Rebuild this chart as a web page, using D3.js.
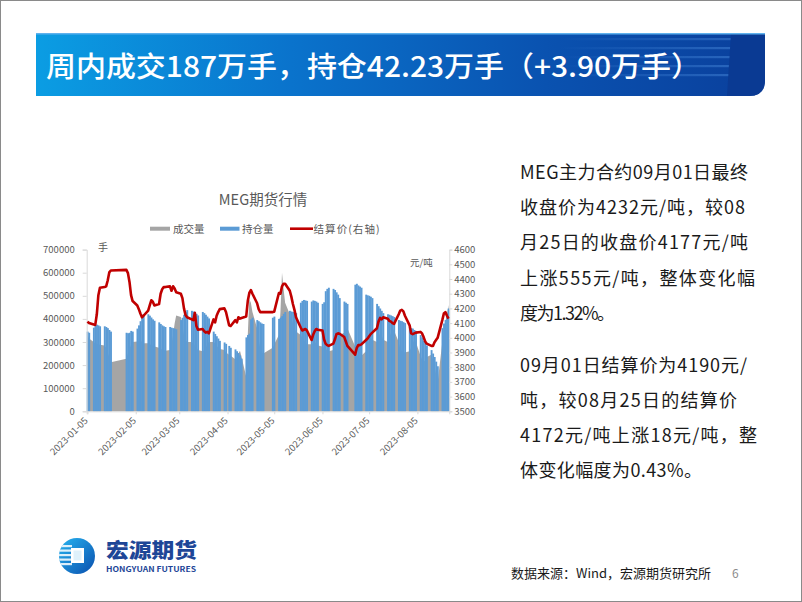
<!DOCTYPE html>
<html>
<head>
<meta charset="utf-8">
<script src="https://cdn.jsdelivr.net/npm/d3@7"></script>
<style>
  html, body { margin: 0; padding: 0; background: #fff; }
  svg { display: block; }
  text { font-family: "Noto Sans CJK SC", "Liberation Sans", sans-serif; }
</style>
</head>
<body>
<svg id="slide" width="802" height="602"></svg>
<script>
// ---- data ----
const firstDay = "2023-01-05";
const lastDay = "2023-08-25";
const holidays = ["2023-01-23", "2023-01-24", "2023-01-25", "2023-01-26", "2023-01-27",
  "2023-04-05", "2023-05-01", "2023-05-02", "2023-05-03", "2023-06-22", "2023-06-23"];

// 成交量 (手), one value per trading day, one row per week
const volume = [
  330000, 315000,
  300000, 295000, 292000, 290000, 288000,
  285000, 275000, 255000, 235000, 212000,
  228000, 250000, 270000, 288000, 300000,
  302000, 305000, 310000, 300000, 295000,
  295000, 290000, 288000, 284000, 280000,
  275000, 270000, 268000, 265000, 262000,
  265000, 290000, 330000, 380000, 415000,
  408000, 370000, 332000, 310000, 300000,
  300000, 295000, 285000, 275000, 265000,
  260000, 265000, 275000, 290000, 300000,
  300000, 295000, 285000, 275000, 270000,
  265000, 255000, 245000, 240000,
  225000, 235000, 250000, 262000, 235000,
  150000, 330000, 485000, 470000, 430000,
  360000, 310000, 275000, 258000, 250000,
  275000, 290000,
  330000, 430000, 600000, 530000, 470000,
  420000, 400000, 380000, 360000, 345000,
  330000, 320000, 310000, 300000, 290000,
  290000, 295000, 300000, 295000, 285000,
  280000, 275000, 270000, 265000, 260000,
  265000, 280000, 300000, 320000, 330000,
  340000, 355000, 360000,
  280000, 250000, 235000, 230000, 240000,
  260000, 290000, 310000, 320000, 310000,
  300000, 320000, 340000, 330000, 310000,
  300000, 320000, 340000, 360000, 350000,
  300000, 270000, 262000, 258000, 255000,
  260000, 275000, 295000, 310000, 300000,
  240000, 225000, 215000, 220000, 235000,
  245000, 225000, 195000, 160000, 125000,
  300000, 350000, 390000, 420000, 460000
];

// 持仓量 (手)
const openInt = [
  345000, 340000,
  362000, 370000, 375000, 372000, 368000,
  368000, 365000, 360000, 352000, 345000,
  340000, 338000, 340000, 348000, 345000,
  358000, 372000, 390000, 410000, 420000,
  420000, 414000, 406000, 398000, 392000,
  385000, 378000, 372000, 368000, 365000,
  365000, 362000, 360000, 358000, 355000,
  395000, 405000, 418000, 430000, 438000,
  435000, 432000, 428000, 422000, 415000,
  430000, 425000, 418000, 410000, 402000,
  345000, 335000, 325000, 315000, 305000,
  298000, 292000, 283000, 275000,
  268000, 260000, 252000, 242000, 228000,
  320000, 330000, 336000, 398000, 405000,
  395000, 390000, 385000, 380000, 378000,
  405000, 410000,
  400000, 405000, 412000, 422000, 430000,
  435000, 432000, 430000, 428000, 425000,
  470000, 478000, 482000, 480000, 478000,
  475000, 480000, 478000, 475000, 470000,
  465000, 472000, 520000, 530000, 535000,
  530000, 525000, 515000, 505000, 490000,
  475000, 470000, 465000,
  548000, 552000, 545000, 540000, 535000,
  505000, 502000, 500000, 496000, 490000,
  465000, 455000, 445000, 435000, 425000,
  420000, 418000, 415000, 412000, 408000,
  395000, 392000, 390000, 386000, 382000,
  365000, 360000, 358000, 352000, 348000,
  330000, 320000, 305000, 295000, 285000,
  265000, 250000, 235000, 215000, 195000,
  360000, 380000, 395000, 415000, 445000
];

// 结算价 (元/吨, 右轴)
const settle = [
  4110, 4100,
  4090, 4088, 4160, 4290, 4340,
  4345, 4350, 4390, 4445, 4458,
  4462, 4440, 4380, 4290, 4250,
  4220, 4195, 4165, 4140, 4150,
  4185, 4220, 4255, 4245, 4220,
  4230, 4300, 4330, 4345, 4345,
  4350, 4320, 4350, 4335, 4310,
  4300, 4270, 4200, 4155, 4140,
  4125, 4120, 4170, 4080, 4055,
  4060, 4045, 4035, 4040, 4030,
  4125, 4105, 4150, 4175, 4195,
  4200, 4175, 4085, 4080,
  4120, 4105, 4140, 4130, 4135,
  4145, 4250, 4305, 4325, 4300,
  4235, 4195, 4175, 4175, 4175,
  4175, 4178,
  4305, 4300, 4350, 4368, 4368,
  4320, 4280, 4230, 4190, 4140,
  4070, 4050, 4055, 4060, 4050,
  3985, 4020, 4045, 4060, 4055,
  4050, 3990, 3960, 3950, 3945,
  3960, 3990, 4025, 4030, 4028,
  4005, 3975, 3945,
  3885, 3930, 3950, 3950, 3955,
  3985, 3995, 4010, 4025, 4035,
  4065, 4110, 4135, 4125, 4140,
  4130, 4115, 4110, 4100, 4095,
  4160, 4185, 4190, 4180, 4150,
  4085, 4030, 4025, 4030, 4035,
  4040, 4030, 4005, 3975, 3960,
  3945, 3945, 3970, 3985, 4000,
  4120, 4165, 4175, 4150, 4130
];

const dateTicks = ["2023-01-05", "2023-02-05", "2023-03-05", "2023-04-05",
  "2023-05-05", "2023-06-05", "2023-07-05", "2023-08-05"];
const leftTicks = [0, 100000, 200000, 300000, 400000, 500000, 600000, 700000];
const rightTicks = [3500, 3600, 3700, 3800, 3900, 4000, 4100, 4200, 4300, 4400, 4500, 4600];

const noteLines = [
  "MEG主力合约09月01日最终",
  "收盘价为4232元/吨，较08",
  "月25日的收盘价4177元/吨",
  "上涨555元/吨，整体变化幅",
  "度为1.32%。",
  "09月01日结算价为4190元/",
  "吨，较08月25日的结算价",
  "4172元/吨上涨18元/吨，整",
  "体变化幅度为0.43%。"
];

// ---- build trading calendar ----
const parse = d3.timeParse("%Y-%m-%d");
const fmt = d3.timeFormat("%Y-%m-%d");
const start = parse(firstDay), end = parse(lastDay);
const holidaySet = new Set(holidays);
const tradeDays = d3.timeDay.range(start, d3.timeDay.offset(end, 1))
  .filter(d => d.getDay() % 6 !== 0 && !holidaySet.has(fmt(d)));

const rows = tradeDays.map((d, i) => ({ date: d, vol: volume[i], oi: openInt[i], px: settle[i] }));

const svg = d3.select("#slide");

// slide frame
svg.append("rect").attr("x", 0.5).attr("y", 0.5).attr("width", 801).attr("height", 601)
  .attr("fill", "#fff").attr("stroke", "#8a8a8a");

// ---- title banner ----
const defs = svg.append("defs");
const bg = defs.append("linearGradient").attr("id", "bannerGrad")
  .attr("x1", 0).attr("y1", 0).attr("x2", 1).attr("y2", 0);
bg.selectAll("stop")
  .data([
    { offset: "0%", color: "#0b9de3" },
    { offset: "35%", color: "#0a73cc" },
    { offset: "70%", color: "#0a52b0" },
    { offset: "100%", color: "#0a3f9c" }
  ])
  .enter().append("stop")
  .attr("offset", d => d.offset)
  .attr("stop-color", d => d.color);

const sg = defs.append("linearGradient").attr("id", "stripeGrad")
  .attr("x1", 0).attr("y1", 0).attr("x2", 1).attr("y2", 0);
sg.append("stop").attr("offset", "0%").attr("stop-color", "#4d8fe0").attr("stop-opacity", 0);
sg.append("stop").attr("offset", "100%").attr("stop-color", "#4d8fe0").attr("stop-opacity", 0.45);

const bx0 = 36, bx1 = 765, by0 = 33, by1 = 96, br = 16;
svg.append("path")
  .attr("d", `M${bx0},${by0}H${bx1}V${by1 - br}Q${bx1},${by1} ${bx1 - br},${by1}H${bx0}Z`)
  .attr("fill", "url(#bannerGrad)");

// light stripes on the right of the banner
svg.append("g").selectAll("rect")
  .data([38, 47, 56, 65, 74])
  .enter().append("rect")
  .attr("x", 560).attr("y", d => d).attr("width", 172).attr("height", 2.2)
  .attr("fill", "url(#stripeGrad)");

// dark block at the right end
svg.append("path")
  .attr("d", `M731,${by0}H${bx1}V${by1 - br}Q${bx1},${by1} ${bx1 - br},${by1}H727Z`)
  .attr("fill", "#0a3a93");
svg.append("rect").attr("x", bx0).attr("y", by0).attr("width", bx1 - bx0).attr("height", 1.5)
  .attr("fill", "#5fb2ee");

svg.append("text")
  .attr("x", 46).attr("y", 77)
  .attr("fill", "#fff")
  .attr("font-size", 28)
  .attr("font-weight", 500)
  .attr("textLength", 655)
  .attr("lengthAdjust", "spacingAndGlyphs")
  .text("周内成交187万手，持仓42.23万手（+3.90万手）");

// ---- chart ----
const plotL = 86.7, plotR = 449.3, plotT = 249.6, plotB = 411.3;

const x = d3.scaleTime()
  .domain([d3.timeHour.offset(start, -12), d3.timeHour.offset(end, 12)])
  .range([plotL, plotR]);
const yL = d3.scaleLinear().domain([0, 700000]).range([plotB, plotT]);
const yR = d3.scaleLinear().domain([3500, 4600]).range([plotB, plotT]);
const dayW = x(d3.timeDay.offset(start, 1)) - x(start);

const chart = svg.append("g");

// 成交量 area
const area = d3.area()
  .x(d => x(d.date))
  .y0(yL(0))
  .y1(d => yL(d.vol));
chart.append("path").datum(rows)
  .attr("fill", "#a5a5a5")
  .attr("d", area);

// 持仓量 bars
chart.append("g").selectAll("rect")
  .data(rows)
  .enter().append("rect")
  .attr("x", d => x(d.date) - dayW / 2)
  .attr("width", dayW + 0.35)
  .attr("y", d => yL(d.oi))
  .attr("height", d => yL(0) - yL(d.oi))
  .attr("fill", "#5b9bd5");

// axes
const axisColor = "#d9d9d9", labelColor = "#595959";

const gL = chart.append("g").attr("transform", `translate(${plotL},0)`)
  .call(d3.axisLeft(yL).tickValues(leftTicks).tickFormat(d3.format("d")).tickSize(4).tickPadding(8));
const gR = chart.append("g").attr("transform", `translate(${plotR},0)`)
  .call(d3.axisRight(yR).tickValues(rightTicks).tickFormat(d3.format("d")).tickSize(3).tickPadding(2));
const gX = chart.append("g").attr("transform", `translate(0,${plotB})`)
  .call(d3.axisBottom(x).tickValues(dateTicks.map(parse)).tickFormat("").tickSize(3));

[gL, gR, gX].forEach(g => {
  g.selectAll(".domain, line").attr("stroke", axisColor);
  g.selectAll("text")
    .attr("fill", labelColor)
    .attr("font-size", 9.5)
    .attr("font-family", "Liberation Sans, Noto Sans CJK SC, sans-serif");
});

chart.append("g").selectAll("text")
  .data(dateTicks)
  .enter().append("text")
  .attr("transform", d => `translate(${x(parse(d)) + 1},${plotB + 10}) rotate(-45)`)
  .attr("text-anchor", "end")
  .attr("fill", labelColor)
  .attr("font-size", 9.5)
  .attr("font-family", "Liberation Sans, sans-serif")
  .text(d => d);

// 结算价 line
const line = d3.line()
  .x(d => x(d.date))
  .y(d => yR(d.px));
chart.append("path").datum(rows)
  .attr("fill", "none")
  .attr("stroke", "#c00000")
  .attr("stroke-width", 2.6)
  .attr("stroke-linejoin", "round")
  .attr("d", line);

// unit labels
chart.append("text").attr("x", 98).attr("y", 251)
  .attr("fill", labelColor).attr("font-size", 10).text("手");
chart.append("text").attr("x", 410).attr("y", 266)
  .attr("fill", labelColor).attr("font-size", 9.5).text("元/吨");

// chart title
svg.append("text")
  .attr("x", 263).attr("y", 205)
  .attr("text-anchor", "middle")
  .attr("fill", labelColor)
  .attr("font-size", 14.5)
  .text("MEG期货行情");

// legend
const legend = svg.append("g").attr("font-size", 10.5).attr("fill", labelColor);
legend.append("rect").attr("x", 150).attr("y", 226.7).attr("width", 20).attr("height", 4).attr("fill", "#a5a5a5");
legend.append("text").attr("x", 173).attr("y", 232.5).text("成交量");
legend.append("rect").attr("x", 220).attr("y", 226.7).attr("width", 19.5).attr("height", 4).attr("fill", "#5b9bd5");
legend.append("text").attr("x", 242).attr("y", 232.5).text("持仓量");
legend.append("line").attr("x1", 290).attr("x2", 313).attr("y1", 228.7).attr("y2", 228.7)
  .attr("stroke", "#c00000").attr("stroke-width", 2.6);
legend.append("text").attr("x", 313.5).attr("y", 232.5).attr("textLength", 66).text("结算价(右轴)");

// ---- right text block ----
const noteY = [179, 214, 249, 285, 320, 372, 407, 442, 477];
const noteW = [228, 225, 228, 235, 95, 227, 217, 237, 182];
svg.append("g").selectAll("text")
  .data(noteLines)
  .enter().append("text")
  .attr("x", 520)
  .attr("y", (d, i) => noteY[i])
  .attr("fill", "#1a1a1a")
  .attr("font-size", 18)
  .attr("textLength", (d, i) => noteW[i])
  .attr("lengthAdjust", "spacing")
  .text(d => d);

// ---- footer ----
svg.append("text")
  .attr("x", 511).attr("y", 578)
  .attr("font-size", 13)
  .attr("fill", "#1a1a1a")
  .attr("textLength", 200)
  .text("数据来源：Wind，宏源期货研究所");
svg.append("text")
  .attr("x", 732).attr("y", 578)
  .attr("font-size", 12)
  .attr("fill", "#8c8c8c")
  .text("6");

// logo
const lg = defs.append("linearGradient").attr("id", "logoGrad")
  .attr("x1", 0).attr("y1", 0).attr("x2", 1).attr("y2", 1);
lg.append("stop").attr("offset", "0%").attr("stop-color", "#27b4f0");
lg.append("stop").attr("offset", "100%").attr("stop-color", "#0a4fae");
defs.append("clipPath").attr("id", "logoClip")
  .append("circle").attr("cx", 77).attr("cy", 556).attr("r", 18);

const logo = svg.append("g");
logo.append("circle").attr("cx", 77).attr("cy", 556).attr("r", 18).attr("fill", "url(#logoGrad)");
logo.append("g").attr("clip-path", "url(#logoClip)").selectAll("rect")
  .data([545, 549.5, 554, 558.5, 563])
  .enter().append("rect")
  .attr("x", 58).attr("y", d => d).attr("width", 14).attr("height", 2.2)
  .attr("fill", "#ffffff").attr("opacity", 0.85);
logo.append("rect").attr("x", 71).attr("y", 548).attr("width", 13).attr("height", 15)
  .attr("fill", "#ffffff");
logo.append("rect").attr("x", 73.5).attr("y", 550.5).attr("width", 8).attr("height", 10)
  .attr("fill", "#dff1fb");

svg.append("text")
  .attr("x", 106).attr("y", 558)
  .attr("font-size", 20)
  .attr("font-weight", 900)
  .attr("fill", "#1d4697")
  .attr("textLength", 91)
  .attr("lengthAdjust", "spacingAndGlyphs")
  .text("宏源期货");
svg.append("text")
  .attr("x", 106).attr("y", 572)
  .attr("font-size", 7)
  .attr("font-weight", 700)
  .attr("font-family", "Liberation Sans, sans-serif")
  .attr("fill", "#1d4697")
  .attr("textLength", 90)
  .attr("lengthAdjust", "spacingAndGlyphs")
  .text("HONGYUAN FUTURES");
</script>
</body>
</html>
